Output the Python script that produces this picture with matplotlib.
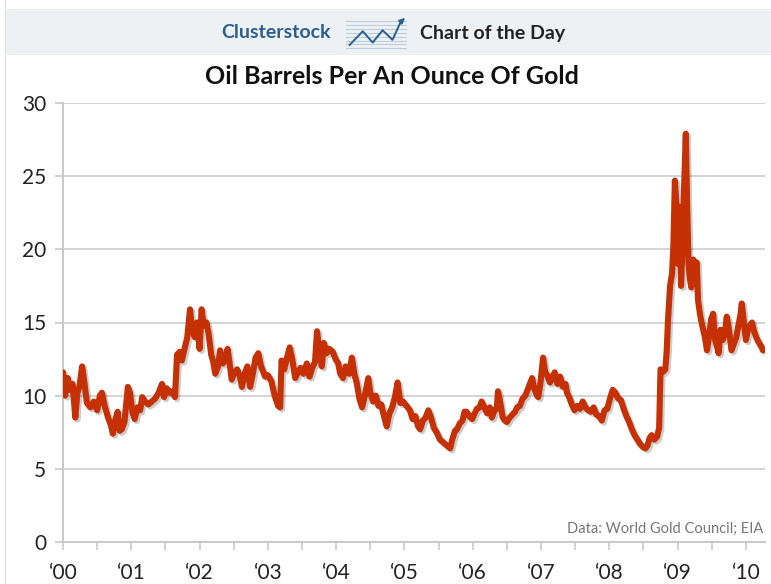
import numpy as np
import matplotlib
matplotlib.use("Agg")
import matplotlib.pyplot as plt
import matplotlib.patheffects as pe
from matplotlib.patches import Rectangle
from matplotlib.lines import Line2D

# years since 2000 and oil barrels per ounce of gold
years = [
    0.00, 0.03, 0.07, 0.10, 0.14, 0.18, 0.21, 0.24, 0.28, 0.31, 0.35, 0.40, 0.45, 0.50,
    0.54, 0.57, 0.61, 0.66, 0.70, 0.73, 0.77, 0.80, 0.83, 0.86, 0.90, 0.95, 0.98,
    1.02, 1.05, 1.09, 1.13, 1.16, 1.20, 1.25, 1.30, 1.35, 1.40, 1.45, 1.48, 1.52,
    1.56, 1.60, 1.64, 1.67, 1.71, 1.74, 1.78, 1.82, 1.86, 1.89, 1.93, 1.96,
    2.00, 2.03, 2.06, 2.10, 2.13, 2.17, 2.20, 2.23, 2.27, 2.30, 2.34, 2.38, 2.41,
    2.44, 2.47, 2.51, 2.55, 2.59, 2.62, 2.66, 2.70, 2.74, 2.78, 2.82, 2.86, 2.90, 2.96,
    3.00, 3.05, 3.10, 3.15, 3.18, 3.20, 3.24, 3.28, 3.32, 3.36, 3.40, 3.44, 3.48,
    3.52, 3.57, 3.61, 3.65, 3.69, 3.72, 3.75, 3.79, 3.82, 3.86, 3.90, 3.95, 3.99,
    4.03, 4.06, 4.10, 4.14, 4.19, 4.23, 4.27, 4.30, 4.34, 4.38, 4.42, 4.47, 4.50,
    4.54, 4.58, 4.62, 4.66, 4.70, 4.74, 4.78, 4.82, 4.86, 4.90, 4.94, 4.98,
    5.03, 5.08, 5.12, 5.16, 5.20, 5.23, 5.27, 5.31, 5.35, 5.39, 5.43, 5.47, 5.52,
    5.57, 5.62, 5.67, 5.70, 5.74, 5.77, 5.81, 5.85, 5.88, 5.91, 5.95, 5.99,
    6.02, 6.06, 6.10, 6.13, 6.17, 6.21, 6.25, 6.28, 6.32, 6.35, 6.37, 6.40, 6.44,
    6.47, 6.50, 6.54, 6.58, 6.62, 6.65, 6.69, 6.73, 6.77, 6.82, 6.87, 6.90, 6.94,
    6.96, 6.99, 7.03, 7.06, 7.09, 7.13, 7.17, 7.20, 7.24, 7.28, 7.32, 7.36, 7.38,
    7.42, 7.45, 7.49, 7.53, 7.57, 7.61, 7.65, 7.69, 7.73, 7.77, 7.81, 7.85, 7.89,
    7.93, 7.97, 8.01, 8.05, 8.09, 8.13, 8.17, 8.21, 8.25, 8.29, 8.33, 8.37, 8.41,
    8.45, 8.49, 8.53, 8.56, 8.59, 8.62, 8.66, 8.70, 8.73, 8.75, 8.78, 8.82, 8.84,
    8.86, 8.89, 8.92, 8.94, 8.96, 8.99, 9.01, 9.03, 9.05, 9.07, 9.10, 9.12, 9.14,
    9.16, 9.18, 9.20, 9.23, 9.25, 9.28, 9.30, 9.33, 9.36, 9.40, 9.43, 9.46, 9.49,
    9.52, 9.55, 9.58, 9.60, 9.63, 9.66, 9.69, 9.72, 9.75, 9.79, 9.82, 9.86, 9.89,
    9.92, 9.94, 9.97, 10.00, 10.03, 10.06, 10.09, 10.12, 10.15, 10.18, 10.22, 10.25,
]
ratio = [
    11.6, 10.0, 11.2, 10.4, 10.8, 8.5, 10.2, 10.6, 12.0, 11.0, 9.5, 9.2, 9.6, 9.0,
    10.0, 10.2, 9.3, 8.5, 8.0, 7.4, 8.4, 8.9, 7.6, 7.7, 8.2, 10.6, 10.2,
    8.8, 8.4, 9.2, 9.0, 9.9, 9.6, 9.4, 9.6, 9.8, 10.2, 10.8, 9.9, 10.5,
    10.2, 10.3, 9.9, 12.8, 13.0, 12.4, 13.2, 14.0, 15.9, 14.5, 14.0, 15.0,
    13.2, 15.9, 14.8, 15.0, 14.3, 12.8, 12.3, 11.5, 12.0, 13.1, 12.2, 12.5, 13.2,
    12.2, 11.1, 11.6, 11.8, 11.3, 10.6, 11.5, 12.0, 10.6, 11.5, 12.6, 12.9, 12.0, 11.3,
    11.4, 11.0, 10.0, 9.3, 9.2, 12.4, 11.8, 12.6, 13.3, 12.4, 11.2, 11.6, 11.9,
    11.5, 12.2, 11.3, 11.9, 12.3, 14.4, 13.2, 12.0, 13.6, 12.9, 13.2, 13.0, 12.5,
    12.2, 11.5, 11.2, 12.0, 11.5, 12.6, 11.4, 10.9, 9.8, 9.2, 10.0, 11.2, 10.2,
    9.6, 10.0, 9.3, 9.4, 8.6, 7.9, 8.8, 9.2, 9.9, 10.9, 9.5, 9.6,
    9.3, 9.0, 8.4, 8.6, 7.9, 7.7, 8.3, 8.5, 9.0, 8.5, 7.8, 7.5, 7.0,
    6.8, 6.6, 6.4, 7.0, 7.6, 7.7, 8.1, 8.3, 8.9, 8.9, 8.6, 8.4,
    8.7, 9.1, 9.2, 9.6, 9.2, 8.8, 9.2, 8.5, 9.0, 9.1, 10.3, 9.6, 8.5,
    8.3, 8.2, 8.5, 8.7, 8.9, 9.2, 9.3, 9.8, 10.0, 10.6, 11.2, 10.5, 10.0,
    9.9, 10.8, 12.6, 11.6, 11.4, 10.9, 11.3, 11.6, 10.8, 11.3, 10.6, 10.8, 10.2,
    9.8, 9.4, 9.0, 9.3, 9.1, 9.6, 9.2, 9.0, 8.9, 9.2, 8.7, 8.6, 8.3,
    9.0, 9.1, 9.8, 10.4, 10.2, 9.8, 9.7, 9.1, 8.6, 8.2, 7.7, 7.3, 7.0,
    6.7, 6.5, 6.4, 6.6, 7.1, 7.3, 7.0, 7.2, 7.8, 11.8, 11.6, 11.8, 13.0,
    15.2, 17.5, 18.4, 20.5, 24.7, 22.5, 19.0, 22.9, 17.5, 20.0, 25.0, 27.9, 23.0,
    19.0, 18.0, 17.4, 19.3, 18.5, 19.1, 16.5, 15.5, 14.8, 14.0, 13.1, 14.0, 15.2,
    15.6, 13.8, 13.3, 12.9, 14.5, 13.8, 14.2, 15.4, 14.6, 13.1, 13.5, 14.0, 14.8,
    15.5, 16.3, 15.0, 13.8, 14.5, 14.8, 15.0, 14.4, 14.0, 13.7, 13.4, 13.1,
]
year_ticks = [0, 1, 2, 3, 4, 5, 6, 7, 8, 9, 10]
year_labels = ["\u201800", "\u201801", "\u201802", "\u201803", "\u201804", "\u201805",
               "\u201806", "\u201807", "\u201808", "\u201809", "\u201810"]
y_ticks = [0, 5, 10, 15, 20, 25, 30]

plt.rcParams['font.family'] = ['Lato', 'DejaVu Sans']

W, H = 771, 584
fig = plt.figure(figsize=(W / 100, H / 100), dpi=100)

# header band
fig.patches.append(Rectangle((5 / W, 1 - 55 / H), 1, 46 / H, transform=fig.transFigure,
                             facecolor="#eef1f4", edgecolor="none", zorder=-5))
fig.lines.append(Line2D([5 / W, 5 / W], [0, 1], transform=fig.transFigure,
                        color="#e2e2e2", lw=1, zorder=-4))
fig.text(331 / W, 1 - 33 / H, "Clusterstock", ha="right", va="center",
         fontsize=14, fontweight="bold", color="#2b5f8e")
fig.text(420 / W, 1 - 33 / H, "Chart of the Day", ha="left", va="center",
         fontsize=14, fontweight="bold", color="#222222")

# little icon between the two header texts
icon = fig.add_axes([343 / W, 1 - 50 / H, 66 / W, 34 / H], zorder=5)
icon.patch.set_alpha(0)
for yy in np.linspace(0.05, 0.85, 8):
    icon.axhline(yy, xmin=0.05, xmax=0.95, color="#b9cde0", lw=0.8)
icon.plot([0.1, 0.3, 0.45, 0.6, 0.75, 0.88], [0.15, 0.55, 0.22, 0.58, 0.3, 0.85],
          color="#2b5f8e", lw=1.4)
icon.annotate("", xy=(0.97, 1.0), xytext=(0.86, 0.8),
              arrowprops=dict(arrowstyle="-|>", color="#2b5f8e", lw=1.2, mutation_scale=8))
icon.set_xlim(0, 1)
icon.set_ylim(0, 1)
icon.axis("off")

fig.text(392 / W, 1 - 76 / H, "Oil Barrels Per An Ounce Of Gold", ha="center", va="center",
         fontsize=18, fontweight="bold", color="#111111")

ax = fig.add_axes([63 / W, 42 / H, (765 - 63) / W, (542 - 103) / H])
ax.plot(years, ratio, color="#c63005", lw=4.4, solid_joinstyle="round",
        solid_capstyle="round", zorder=3,
        path_effects=[pe.SimpleLineShadow(offset=(1.5, -1.5), alpha=0.2),
                      pe.Normal()])

ax.set_xlim(0, 10.28)
ax.set_ylim(0, 30)
ax.set_yticks(y_ticks)
ax.set_xticks(year_ticks)
ax.set_xticklabels(year_labels)
ax.set_xticks(np.arange(0.5, 10.3, 1.0), minor=True)
ax.grid(axis="y", color="#d4d4d4", lw=1.4)
ax.set_axisbelow(True)

for s in ["top", "right"]:
    ax.spines[s].set_visible(False)
for s in ["left", "bottom"]:
    ax.spines[s].set_color("#c8c8c8")
    ax.spines[s].set_linewidth(1.4)

ax.tick_params(axis="both", which="both", color="#c8c8c8", width=1.2, length=6,
               labelsize=15, labelcolor="#222222")
ax.tick_params(axis="x", pad=9)
ax.tick_params(axis="y", pad=6)

ax.text(0.998, 0.015, "Data: World Gold Council; EIA", transform=ax.transAxes,
        ha="right", va="bottom", fontsize=10.5, color="#777777")

fig.savefig("out.png", dpi=100, facecolor="white")
